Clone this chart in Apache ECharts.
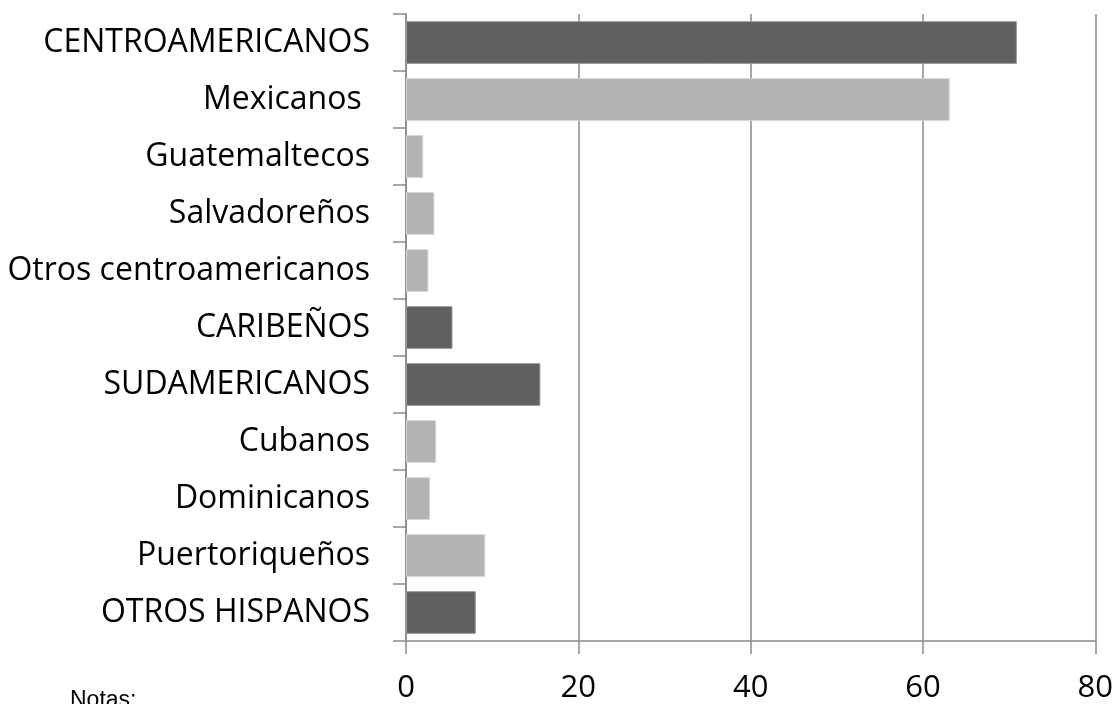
<!DOCTYPE html>
<html>
<head>
<meta charset="utf-8">
<script src="https://cdn.jsdelivr.net/npm/echarts@6/dist/echarts.min.js"></script>
<style>
html,body{margin:0;padding:0;background:#fff;}
#chart{width:1116px;height:704px;}
</style>
</head>
<body>
<div id="chart"></div>
<script>
const categories = ["CENTROAMERICANOS","Mexicanos ","Guatemaltecos","Salvadoreños","Otros centroamericanos","CARIBEÑOS","SUDAMERICANOS","Cubanos","Dominicanos","Puertoriqueños","OTROS HISPANOS"];
const values = [70.9, 63.1, 2.0, 3.3, 2.6, 5.4, 15.6, 3.5, 2.8, 9.2, 8.1];
const xTicks = [0, 20, 40, 60, 80];

const isGroup = c => c.trim() === c.trim().toUpperCase();

const chart = echarts.init(document.getElementById('chart'));
chart.setOption({
  animation: false,
  grid: {left: 406, right: 19, top: 14, bottom: 62, containLabel: false},
  xAxis: {
    type: 'value', min: xTicks[0], max: xTicks[xTicks.length-1], interval: 20,
    axisLine: {show: true, lineStyle: {color: '#8a8a8a', width: 1.5}},
    axisTick: {show: true, length: 13, lineStyle: {color: '#8a8a8a', width: 1.5}},
    splitLine: {show: true, lineStyle: {color: '#8a8a8a', width: 1.5}},
    axisLabel: {fontFamily: 'Open Sans', fontSize: 31, color: '#000', margin: 32}
  },
  yAxis: {
    type: 'category', data: categories, inverse: true,
    axisLine: {show: true, onZero: false, lineStyle: {color: '#8a8a8a', width: 1.5}},
    axisTick: {show: true, length: 13, lineStyle: {color: '#8a8a8a', width: 1.5}},
    axisLabel: {fontFamily: 'Open Sans', fontSize: 32, color: '#000', margin: 36}
  },
  series: [{
    type: 'bar',
    barCategoryGap: '25%',
    data: values.map((v, i) => ({
      value: v,
      itemStyle: isGroup(categories[i])
        ? {color: '#606060', borderColor: '#9a9a9a', borderWidth: 1}
        : {color: '#b3b3b3', borderColor: '#d6d6d6', borderWidth: 1}
    }))
  }],
  graphic: [{
    type: 'text', left: 70, top: 689,
    style: {text: 'Notas:', fontFamily: 'Liberation Sans', fontSize: 23, fill: '#000'}
  }]
});
</script>
</body>
</html>
